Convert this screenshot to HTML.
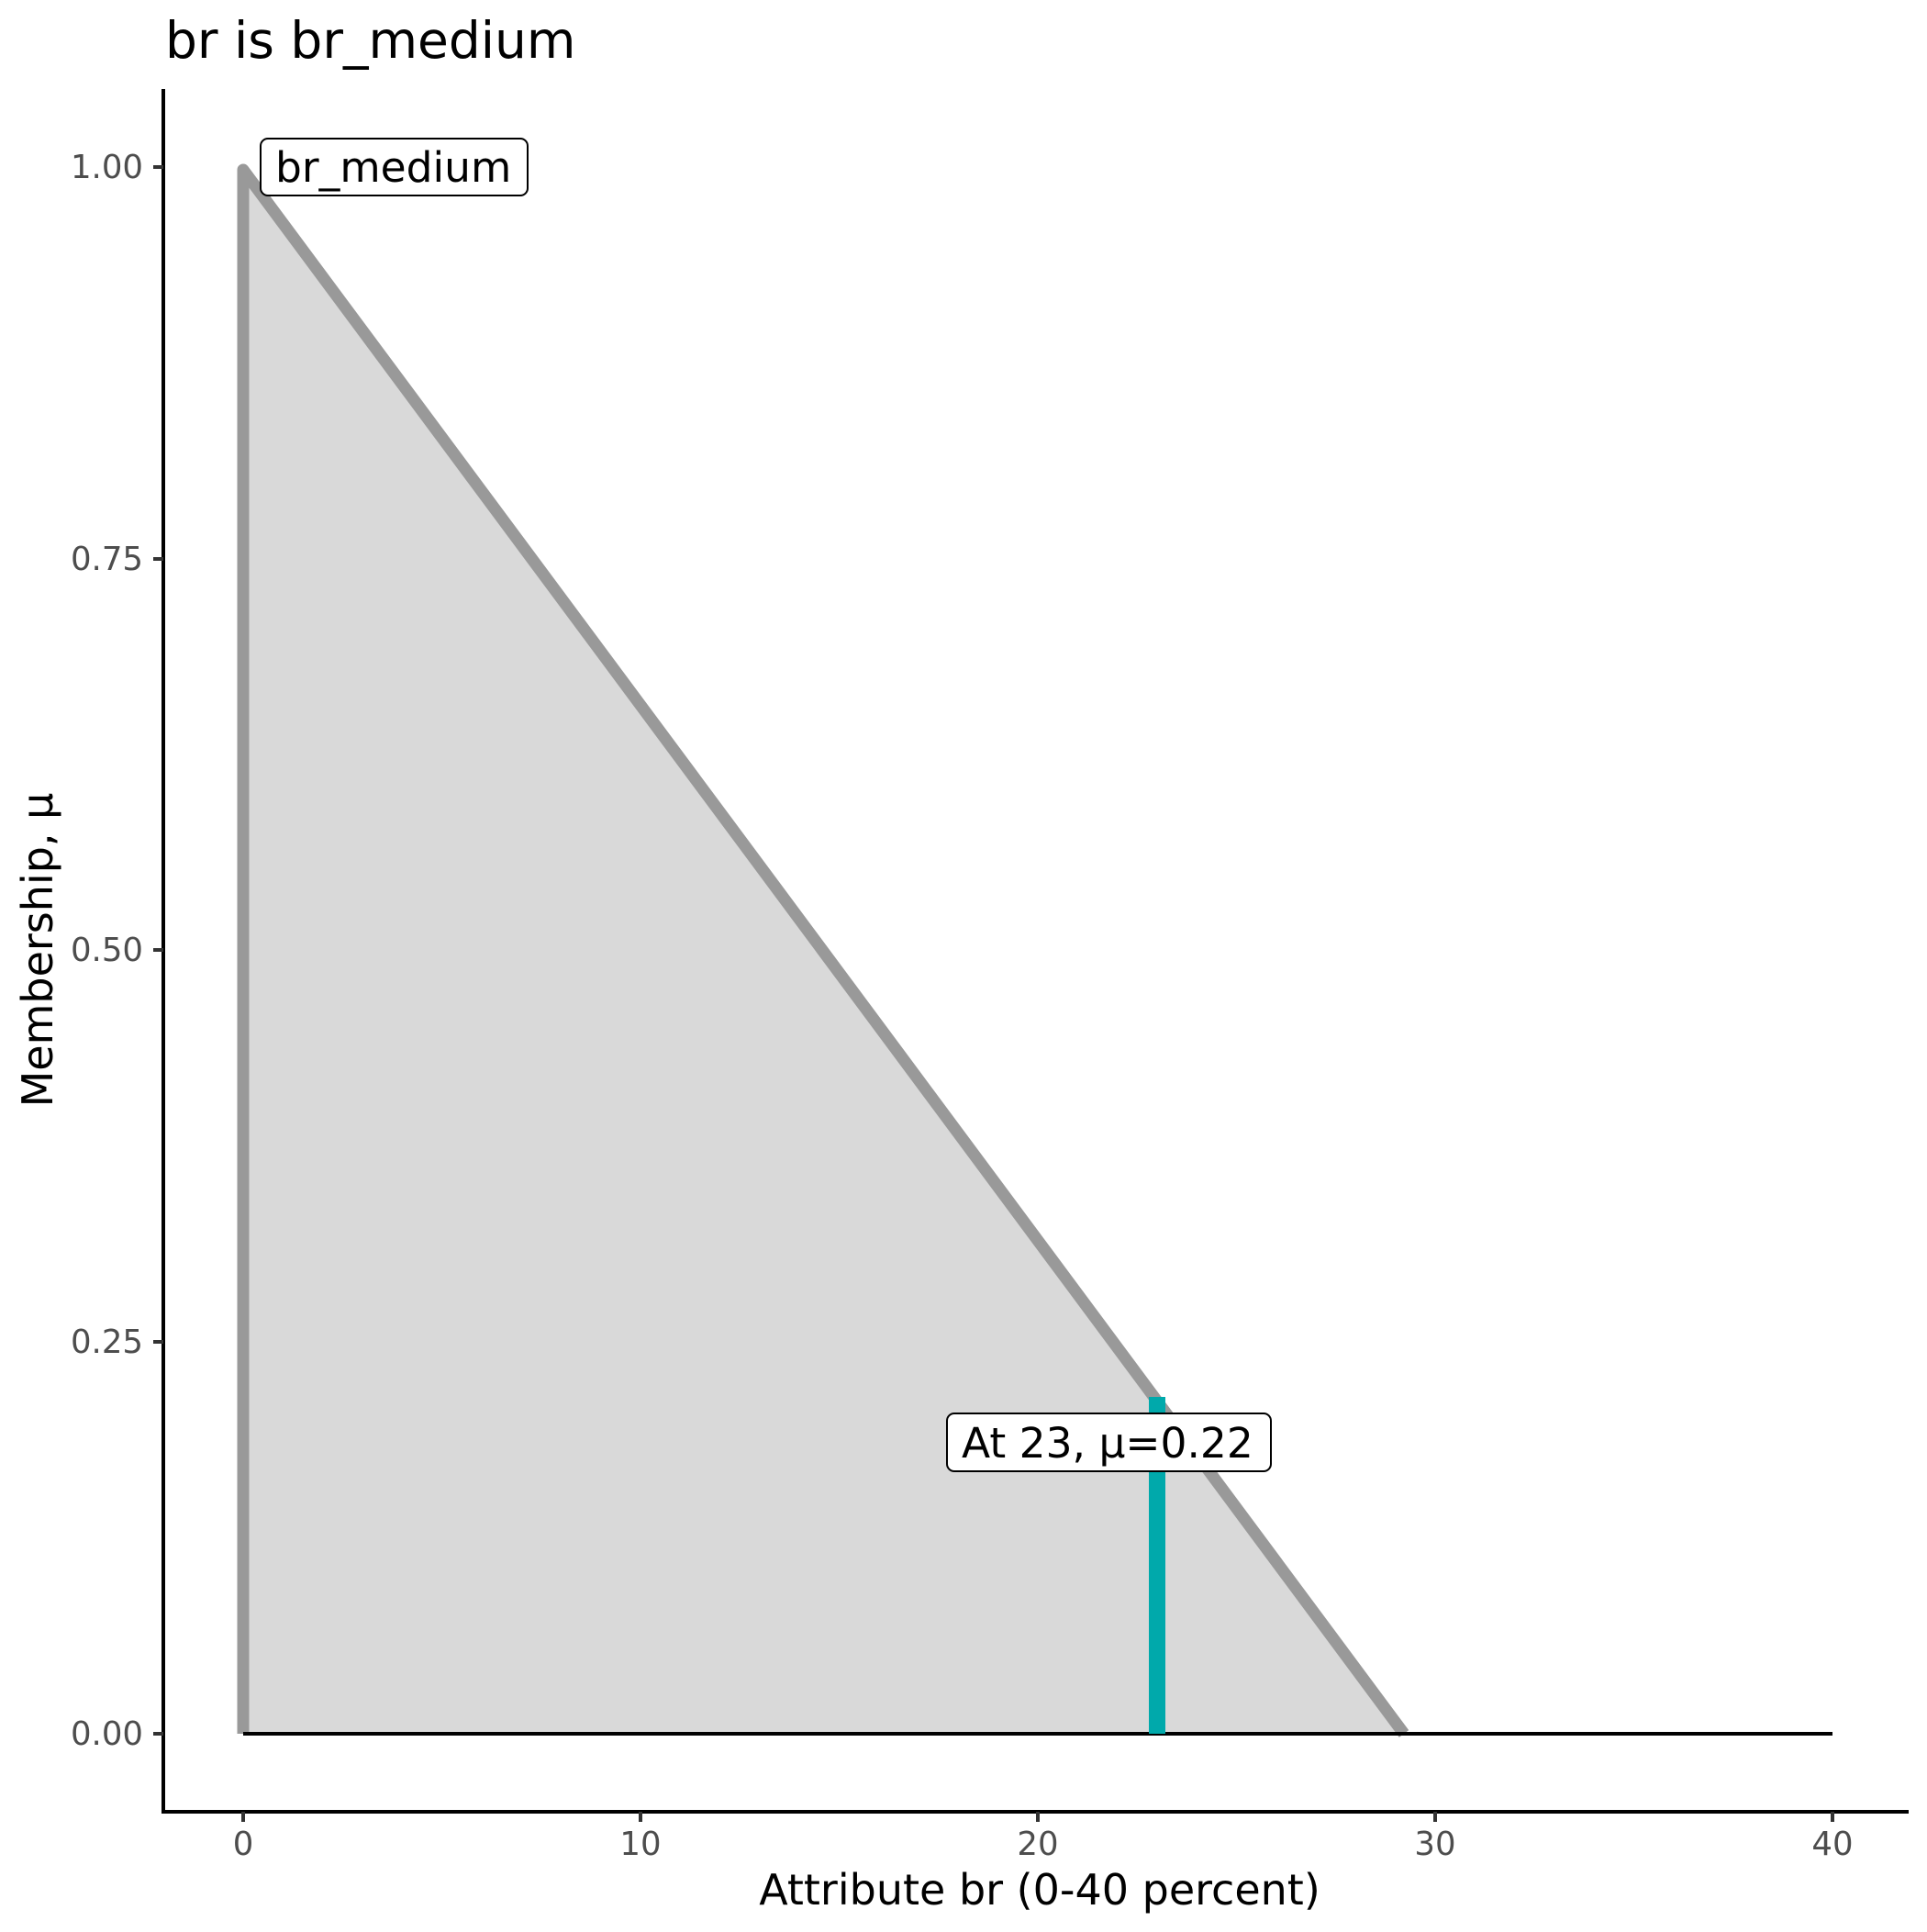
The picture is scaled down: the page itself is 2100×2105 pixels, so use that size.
<!DOCTYPE html>
<html><head><meta charset="utf-8"><style>html,body{margin:0;padding:0;background:#fff}</style></head>
<body>
<svg width="2100" height="2100" viewBox="0 0 2100 2100" xmlns="http://www.w3.org/2000/svg" font-family="'DejaVu Sans','Liberation Sans',sans-serif">
<rect width="2100" height="2100" fill="#fff"/>
<text x="180" y="63" font-size="55" fill="#000">br is br_medium</text>
<polygon points="265,1889 265,182 1530,1889" fill="#d9d9d9"/>
<polyline points="265,1889 265,185 1530,1889" fill="none" stroke="#999999" stroke-width="13" stroke-linejoin="round" stroke-linecap="butt"/>
<line x1="265" y1="1889" x2="1997" y2="1889" stroke="#000" stroke-width="4"/>
<line x1="1261" y1="1889" x2="1261" y2="1522" stroke="#00A9AB" stroke-width="18"/>
<rect x="284" y="151" width="291" height="62" rx="8" fill="#fff" stroke="#000" stroke-width="2"/>
<text x="300" y="198" font-size="45.5" fill="#000">br_medium</text>
<rect x="1032" y="1540" width="353" height="63" rx="8" fill="#fff" stroke="#000" stroke-width="2"/>
<text x="1048" y="1588" font-size="45.5" fill="#000">At 23, μ=0.22</text>
<line x1="178" y1="97" x2="178" y2="1976" stroke="#000" stroke-width="4"/>
<line x1="176" y1="1974" x2="2080" y2="1974" stroke="#000" stroke-width="4"/>
<g stroke="#333" stroke-width="4">
<line x1="167" y1="182" x2="178" y2="182"/><line x1="167" y1="609" x2="178" y2="609"/>
<line x1="167" y1="1035" x2="178" y2="1035"/><line x1="167" y1="1462" x2="178" y2="1462"/>
<line x1="167" y1="1889" x2="178" y2="1889"/>
<line x1="265" y1="1974" x2="265" y2="1985"/><line x1="698" y1="1974" x2="698" y2="1985"/>
<line x1="1131" y1="1974" x2="1131" y2="1985"/><line x1="1564" y1="1974" x2="1564" y2="1985"/>
<line x1="1997" y1="1974" x2="1997" y2="1985"/>
</g>
<g font-size="35.5" fill="#4d4d4d" text-anchor="end">
<text x="156" y="194">1.00</text><text x="156" y="621">0.75</text><text x="156" y="1047">0.50</text>
<text x="156" y="1474">0.25</text><text x="156" y="1901">0.00</text>
</g>
<g font-size="35.5" fill="#4d4d4d" text-anchor="middle">
<text x="265" y="2021">0</text><text x="698" y="2021">10</text><text x="1131" y="2021">20</text>
<text x="1564" y="2021">30</text><text x="1997" y="2021">40</text>
</g>
<text x="1133" y="2075" font-size="46" fill="#000" text-anchor="middle">Attribute br (0-40 percent)</text>
<text transform="translate(57,1035) rotate(-90)" font-size="46" fill="#000" text-anchor="middle">Membership, μ</text>
</svg>
</body></html>
